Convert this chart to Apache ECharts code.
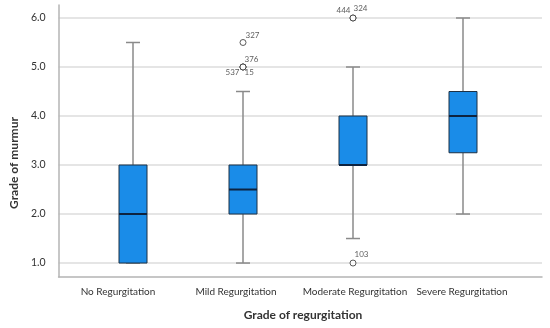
<!DOCTYPE html>
<html><head><meta charset="utf-8">
<script src="https://cdn.jsdelivr.net/npm/echarts@6/dist/echarts.min.js"></script>
<style>html,body{margin:0;padding:0;background:#fff}#c{width:550px;height:328px}</style>
</head><body><div id="c"></div>
<script>
// ---- data ----
const CATEGORIES = ['No Regurgitation', 'Mild Regurgitation', 'Moderate Regurgitation', 'Severe Regurgitation'];
// [min whisker, Q1, median, Q3, max whisker]
const BOX_NO       = [1.0, 1.0, 2.0, 3.0, 5.5];
const BOX_MILD     = [1.0, 2.0, 2.5, 3.0, 4.5];
const BOX_MODERATE = [1.5, 3.0, 3.0, 4.0, 5.0];
const BOX_SEVERE   = [2.0, 3.25, 4.0, 4.5, 6.0];
// outliers: [category index, value, case id]
const OUTLIERS = [
  [1, 5.5, '327'],
  [1, 5.0, '376'],
  [1, 5.0, '537'],
  [1, 5.0, '15'],
  [2, 6.0, '444'],
  [2, 6.0, '324'],
  [2, 1.0, '103']
];
const Y_TICKS = [1, 2, 3, 4, 5, 6];
const X_TITLE = 'Grade of regurgitation';
const Y_TITLE = 'Grade of murmur';

// ---- styles ----
const FONT = 'Lato';
const BOX_W = 28;
const CAP_W = 14;
const LABEL_STYLE = {
  '327': {dx: 3, dy: -7, align: 'left'},
  '376': {dx: 2, dy: -7, align: 'left'},
  '537': {dx: -3, dy: 6, align: 'right'},
  '15':  {dx: 2, dy: 6, align: 'left'},
  '444': {dx: -2, dy: -7, align: 'right'},
  '324': {dx: 1, dy: -9, align: 'left'},
  '103': {dx: 2, dy: -8, align: 'left'}
};
const CAT_SHIFT = [-15, -7, 2, -1];

const boxRows = [BOX_NO, BOX_MILD, BOX_MODERATE, BOX_SEVERE].map((b, i) => [i].concat(b));

const chart = echarts.init(document.getElementById('c'), null, {renderer: 'canvas'});
const YMIN = 0.715, YMAX = 6.265;
const GRID_TOP = 5, GRID_BOTTOM = 51;

chart.setOption({
  animation: false,
  backgroundColor: '#fff',
  grid: [
    {left: 54, right: 8, top: GRID_TOP, bottom: GRID_BOTTOM},
    {left: 78, right: 32, top: GRID_TOP, bottom: GRID_BOTTOM}
  ],
  xAxis: [
    {gridIndex: 0, type: 'value', min: 0, max: 1,
     axisLine: {show: true, onZero: false, lineStyle: {color: '#b4b4b4', width: 1.5}},
     axisTick: {show: false}, axisLabel: {show: false}, splitLine: {show: false}},
    {gridIndex: 1, type: 'category', data: CATEGORIES, boundaryGap: true,
     axisLine: {show: false}, axisTick: {show: false}, splitLine: {show: false},
     axisLabel: {
       interval: 0, margin: 10, fontFamily: FONT, fontSize: 10, color: '#333',
       formatter: (v, i) => '{c' + i + '|' + v + '}',
       rich: CAT_SHIFT.reduce((o, s, i) => {
         o['c' + i] = {fontFamily: FONT, fontSize: 10, color: '#333',
           padding: s < 0 ? [0, -2 * s, 0, 0] : [0, 0, 0, 2 * s]};
         return o;
       }, {})
     },
     name: X_TITLE, nameLocation: 'middle', nameGap: 32,
     nameTextStyle: {fontFamily: FONT, fontSize: 12, fontWeight: 'bold', color: '#333', padding: [0, 0, 0, 10]}}
  ],
  yAxis: [
    {gridIndex: 0, type: 'value', min: YMIN, max: YMAX,
     axisLine: {show: true, lineStyle: {color: '#b4b4b4', width: 1.5}},
     axisTick: {show: false, customValues: Y_TICKS},
     axisLabel: {customValues: Y_TICKS, margin: 13, fontFamily: FONT, fontSize: 10.5, color: '#333',
       formatter: v => Number(v).toFixed(1)},
     splitLine: {show: true, lineStyle: {color: '#dcdcdc', width: 1.5}},
     name: Y_TITLE, nameLocation: 'middle', nameGap: 35,
     nameTextStyle: {fontFamily: FONT, fontSize: 12, fontWeight: 'bold', color: '#333', padding: [0, 44, 0, 0]}},
    {gridIndex: 1, type: 'value', min: YMIN, max: YMAX, show: false, splitLine: {show: false}}
  ],
  series: [
    {
      type: 'custom', xAxisIndex: 1, yAxisIndex: 1,
      data: boxRows,
      encode: {x: 0, y: [1, 2, 3, 4, 5]},
      renderItem: function (params, api) {
        const x = api.value(0);
        const pLow = api.coord([x, api.value(1)]);
        const pQ1 = api.coord([x, api.value(2)]);
        const pMed = api.coord([x, api.value(3)]);
        const pQ3 = api.coord([x, api.value(4)]);
        const pHigh = api.coord([x, api.value(5)]);
        const cx = pQ1[0];
        const wStyle = {stroke: '#8a8a8a', lineWidth: 1.5, fill: null};
        return {
          type: 'group',
          children: [
            {type: 'line', shape: {x1: cx, y1: pQ3[1], x2: cx, y2: pHigh[1]}, style: wStyle},
            {type: 'line', shape: {x1: cx, y1: pQ1[1], x2: cx, y2: pLow[1]}, style: wStyle},
            {type: 'line', shape: {x1: cx - CAP_W / 2, y1: pHigh[1], x2: cx + CAP_W / 2, y2: pHigh[1]}, style: wStyle},
            {type: 'line', shape: {x1: cx - CAP_W / 2, y1: pLow[1], x2: cx + CAP_W / 2, y2: pLow[1]}, style: wStyle},
            {type: 'rect', shape: {x: cx - BOX_W / 2, y: pQ3[1], width: BOX_W, height: pQ1[1] - pQ3[1]},
             style: {fill: '#1a8ce8', stroke: '#1d3145', lineWidth: 1}},
            {type: 'line', shape: {x1: cx - BOX_W / 2, y1: pMed[1], x2: cx + BOX_W / 2, y2: pMed[1]},
             style: {stroke: '#0d2340', lineWidth: 2}}
          ]
        };
      }
    },
    {
      type: 'scatter', xAxisIndex: 1, yAxisIndex: 1,
      symbol: 'circle', symbolSize: 6,
      itemStyle: {color: '#fff', borderColor: '#333', borderWidth: 1},
      data: OUTLIERS.map(o => {
        const s = LABEL_STYLE[o[2]];
        return {
          value: [o[0], o[1]],
          label: {show: true, formatter: o[2], position: [3 + s.dx, 3 + s.dy],
            align: s.align, verticalAlign: 'middle',
            fontFamily: FONT, fontSize: 8, color: '#333'}
        };
      })
    }
  ]
});
</script></body></html>
